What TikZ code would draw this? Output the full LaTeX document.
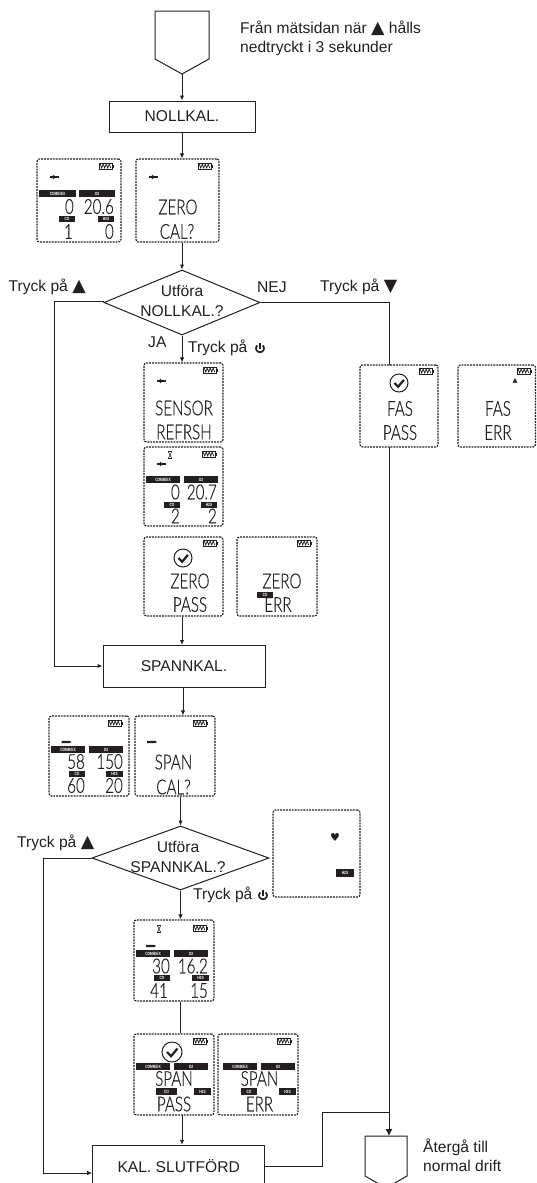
\documentclass[tikz,border=0pt]{standalone}
\usepackage{fontspec}
\setmainfont{Liberation Sans}
\newfontfamily\symf{DejaVu Sans}
\newfontfamily\lcdf[FakeStretch=.74,FakeBold=.4]{Lato Light}
\newfontfamily\barf[FakeStretch=.72]{Liberation Sans}
\usetikzlibrary{shapes.geometric,arrows.meta}
\definecolor{ink}{HTML}{231F20}
\newcount\nn
\tikzset{
  x=1pt,y=-1pt,
  conn/.style={draw=ink,line width=1pt},
  arr/.style={conn,-{Latex[length=5pt,width=4.5pt]}},
  bigarr/.style={conn,-{Latex[length=7pt,width=7pt]}},
  flow/.style={draw=ink,line width=1pt,fill=white,inner sep=0pt,font=\fontsize{15.6}{18}\selectfont,text=ink},
  diam/.style={draw=ink,line width=1pt,diamond,inner sep=0pt,aspect=2.4},
  lbl/.style={inner sep=0pt,text=ink,font=\fontsize{15.6}{19}\selectfont,anchor=base west},
  lcdbox/.style={draw=ink,line width=1.1pt,dash pattern=on 1.9pt off 1pt,rounded corners=2.5pt,inner sep=0pt},
  lcdtxt/.style={inner sep=0pt,text=ink,font=\lcdf\fontsize{20.5}{20}\selectfont},
  lcdnum/.style={lcdtxt,anchor=east},
  barlbl/.style={inner sep=0pt,text=white,font=\barf\bfseries\fontsize{4.6}{5}\selectfont},
}
\newcommand\uid{\global\advance\nn by 1 }
\newcommand\lcdpanel[5]{\node[lcdbox,minimum width={(#4-#2)*1pt},minimum height={(#5-#3)*1pt}] (#1) at ({(#2+#4)/2},{(#3+#5)/2}) {};}
\newcommand\batt[2]{%
  \draw[ink,line width=.8pt] (#1,#2) rectangle ++(13.5,6);
  \fill[ink] (#1+13.5,#2+1.5) rectangle ++(1.4,3);
  \draw[ink,line width=.7pt] (#1+1.2,#2+1) -- ++(1.5,4) -- ++(1.5,-4) -- ++(1.5,4) -- ++(1.5,-4) -- ++(1.5,4) -- ++(1.5,-4) -- ++(1.5,4);}
\newcommand\pumpicon[2]{%
  \fill[ink] (#1-4.5,#2-.7) rectangle (#1+4.5,#2+.7);
  \fill[ink] (#1-1.2,#2-2.4) -- (#1+2.2,#2) -- (#1-1.2,#2+2.4) -- cycle;}
\newcommand\dashicon[2]{%
  \fill[ink] (#1-5,#2-1.2) -- (#1+3,#2-1.2) -- (#1+5,#2) -- (#1+3,#2+1.2) -- (#1-5,#2+1.2) -- cycle;}
\newcommand\glass[2]{%
  \draw[ink,line width=.6pt] (#1-1.7,#2-3.5) -- (#1+1.7,#2-3.5) -- (#1-1.7,#2+3.5) -- (#1+1.7,#2+3.5) -- cycle;}
\newcommand\okmark[3]{%
  \draw[ink,line width=1pt] (#1,#2) circle (#3);
  \draw[ink,line width=2.2pt] (#1-.5*#3,#2) -- (#1-.1*#3,#2+.42*#3) -- (#1+.55*#3,#2-.35*#3);}
\newcommand\tagbar[6]{% x1,y1,x2,y2,text
  \uid\fill[ink] (#1,#2) rectangle (#3,#4);
  \node[barlbl] (bar\the\nn) at ({(#1+#3)/2},{(#2+#4)/2}) {#5};}
\newcommand\lcdword[3]{\uid\node[lcdtxt] (w\the\nn) at (#1,#2) {#3};}
\newcommand\lcdval[3]{\uid\node[lcdnum] (v\the\nn) at (#1,#2) {#3};}
\newcommand\powericon[2]{%
  \draw[ink,line width=1.7pt] (#1-2.8,#2-2.6) .. controls (#1-5.6,#2+.8) and (#1-3.2,#2+4.2) .. (#1,#2+4.2) .. controls (#1+3.2,#2+4.2) and (#1+5.6,#2+.8) .. (#1+2.8,#2-2.6);
  \draw[ink,line width=1.7pt] (#1,#2-5.5) -- (#1,#2+.5);}
\begin{document}
\begin{tikzpicture}
\useasboundingbox (0,0) rectangle (536,1183);
\clip (0,0) rectangle (536,1183);
% start
\coordinate (p1) at (182,74);
\coordinate (p1c) at (182,40);
\draw[ink,line width=1pt] (155,11) -- (209,11) -- (209,59) -- (p1) -- (155,59) -- cycle;
\node[lbl] (from) at (240,33) {Från mätsidan när {\symf\fontsize{17.5}{14}\selectfont ▲} hålls};
\node[lbl] (from2) at (240,52) {nedtryckt i 3 sekunder};
\node[flow,minimum width=146pt,minimum height=31pt] (nk) at (182,116.5) {NOLLKAL.};
\draw[arr] (p1) -- (nk.north);
% lcd 1
\lcdpanel{a1}{37}{159}{121}{242}
\begin{scope}[shift={(37,159)}]
\batt{62}{4}\pumpicon{17}{18}
\tagbar{2}{31}{39}{38}{COMB/EX}{}\tagbar{42}{31}{78}{38}{O2}{}
\tagbar{22}{57}{38}{63}{CO}{}\tagbar{61}{57}{77}{63}{H2S}{}
\lcdval{37}{47.5}{0}\lcdval{77}{47.5}{20.6}\lcdval{36}{72.5}{1}\lcdval{77}{72.5}{0}
\end{scope}
\lcdpanel{a2}{136}{159}{219}{242}
\begin{scope}[shift={(136,159)}]
\batt{62}{4}\pumpicon{17}{18}
\lcdword{42}{48}{ZERO}\lcdword{41}{72.5}{CAL?}
\end{scope}
\draw[arr] (nk.south) -- (nk.south |- a2.north);
% decision 1
\node[diam,minimum width=156pt,minimum height=65pt] (d1) at (182,302.5) {};
\node[inner sep=0pt,align=center,text=ink,font=\fontsize{15.6}{20.5}\selectfont] (d1t) at (182,301) {Utföra\\NOLLKAL.?};
\draw[arr] (d1.north |- a2.south) -- (d1.north);
\node[lbl] (t1) at (8.5,291) {Tryck på {\symf\fontsize{17.5}{15}\selectfont ▲}};
\node[lbl] (ja) at (148,347) {JA};
\node[lbl] (t2) at (188,352) {Tryck på};
\powericon{260}{348}
\node[lbl] (nej) at (257,292) {NEJ};
\node[lbl] (t3) at (320,291) {Tryck på {\symf\fontsize{17.5}{15}\selectfont ▼}};
% sensor refresh
\lcdpanel{b1}{144}{363}{223}{442}
\begin{scope}[shift={(144,363)}]
\batt{59}{4}\pumpicon{17}{18}
\lcdword{40}{45}{SENSOR}\lcdword{40}{69}{REFRSH}
\end{scope}
\draw[arr] (d1.south) -- (d1.south |- b1.north);
\lcdpanel{b2}{144}{447}{223}{526}
\begin{scope}[shift={(144,447)}]
\batt{58}{4}\pumpicon{17}{17}\glass{26}{8}
\tagbar{2}{29}{36}{36}{COMB/EX}{}\tagbar{40}{29}{74}{36}{O2}{}
\tagbar{20}{55}{36}{61}{CO}{}\tagbar{57}{55}{73}{61}{H2S}{}
\lcdval{36}{45}{0}\lcdval{73}{45}{20.7}\lcdval{36}{69}{2}\lcdval{73}{69}{2}
\end{scope}
\lcdpanel{b3}{144}{537}{223}{616}
\begin{scope}[shift={(144,537)}]
\batt{59}{3}\okmark{39}{21}{9}
\lcdword{46}{44}{ZERO}\lcdword{46}{67.5}{PASS}
\end{scope}
\lcdpanel{b4}{237}{537}{317}{616}
\begin{scope}[shift={(237,537)}]
\batt{60}{3}
\lcdword{45}{44}{ZERO}\lcdword{41}{67.5}{ERR}
\tagbar{20}{55}{36}{61}{CO}{}
\end{scope}
% FAS
\lcdpanel{c1}{360}{365}{438}{447}
\begin{scope}[shift={(360,365)}]
\batt{59}{3}\okmark{39}{18}{9}
\lcdword{40}{43.5}{FAS}\lcdword{40}{67.5}{PASS}
\end{scope}
\lcdpanel{c2}{458}{365}{535.5}{447}
\begin{scope}[shift={(458,365)}]
\batt{59}{3}
\node[inner sep=0pt,text=ink,font=\symf\fontsize{6.5}{6}\selectfont] (warn) at (57,16) {▲};
\lcdword{40}{43.5}{FAS}\lcdword{40}{67.5}{ERR}
\end{scope}
\coordinate (nej1) at (389,302.5);
\coordinate (nej2) at (389,365);
\draw[conn] (d1.east) -- (nej1) -- (nej2);
% span box
\node[flow,minimum width=162pt,minimum height=42pt] (sp) at (184,666) {SPANNKAL.};
\coordinate (l1) at (54,301);
\draw[arr] (d1.west |- l1) -- (l1) -- (l1 |- sp.west) -- (sp.west);
\coordinate (sptop) at (182,645);
\draw[arr] (sptop |- b3.south) -- (sptop);
% span lcds
\lcdpanel{e1}{49}{716}{129}{796}
\begin{scope}[shift={(49,716)}]
\batt{59}{4}\dashicon{17.5}{26}
\tagbar{2}{30}{36}{37}{COMB/EX}{}\tagbar{40}{30}{74}{37}{O2}{}
\tagbar{20}{55}{36}{61}{CO}{}\tagbar{57}{55}{74}{61}{H2S}{}
\lcdval{36}{45.5}{58}\lcdval{74}{45.5}{150}\lcdval{36}{69.5}{60}\lcdval{74}{69.5}{20}
\end{scope}
\lcdpanel{e2}{135}{716}{215}{796}
\begin{scope}[shift={(135,716)}]
\batt{58}{4}\dashicon{17}{26}
\lcdword{38.5}{46}{SPAN}\lcdword{38.5}{71}{CAL?}
\end{scope}
\coordinate (spb) at (183,687);
\draw[arr] (spb) -- (spb |- e2.north);
% decision 2
\node[diam,minimum width=177pt,minimum height=64pt] (d2) at (180.5,858) {};
\node[inner sep=0pt,align=center,text=ink,font=\fontsize{15.6}{20.5}\selectfont] (d2t) at (178,857) {Utföra\\SPANNKAL.?};
\draw[arr] (d2.north |- e2.south) -- (d2.north);
\node[lbl] (t4) at (17,847) {Tryck på {\symf\fontsize{17.5}{15}\selectfont ▲}};
\node[lbl] (t5) at (193,899) {Tryck på};
\powericon{263}{895}
\lcdpanel{f1}{273}{810}{360}{897}
\begin{scope}[shift={(273,810)}]
\node[inner sep=0pt,text=ink,font=\symf\fontsize{11}{10}\selectfont] (heart) at (62,27) {♥};
\tagbar{63}{59}{81}{67}{H2S}{}
\end{scope}
% reading
\lcdpanel{g1}{134}{920}{214}{1001}
\begin{scope}[shift={(134,920)}]
\batt{59}{5}\dashicon{17}{26}\glass{25}{9}
\tagbar{2}{30}{36}{37}{COMB/EX}{}\tagbar{40}{30}{74}{37}{O2}{}
\tagbar{20}{55}{36}{61}{CO}{}\tagbar{58}{55}{75}{61}{H2S}{}
\lcdval{36}{46}{30}\lcdval{74}{46}{16.2}\lcdval{34}{70.5}{41}\lcdval{74}{70.5}{15}
\end{scope}
\draw[arr] (d2.south) -- (d2.south |- g1.north);
\lcdpanel{g2}{134}{1034}{214}{1115}
\begin{scope}[shift={(134,1034)}]
\batt{59}{4}\okmark{38}{18}{10}
\tagbar{2}{29}{36}{36}{COMB/EX}{}\tagbar{40}{29}{74}{36}{O2}{}
\tagbar{22}{54}{43}{61}{CO}{}\tagbar{60}{54}{77}{61}{H2S}{}
\lcdword{40}{44.5}{SPAN}\lcdword{40}{70}{PASS}
\end{scope}
\lcdpanel{g3}{218}{1034}{298}{1115}
\begin{scope}[shift={(218,1034)}]
\batt{59}{4}
\tagbar{5}{29}{39}{36}{COMB/EX}{}\tagbar{43}{29}{77}{36}{O2}{}
\tagbar{23}{54}{39}{61}{CO}{}\tagbar{61}{54}{78}{61}{H2S}{}
\lcdword{41.5}{44.5}{SPAN}\lcdword{41.5}{70}{ERR}
\end{scope}
\draw[conn] (d2.south |- g1.south) -- (d2.south |- g2.north);
% end
\node[flow,minimum width=172pt,minimum height=41.5pt] (kal) at (178.7,1166) {KAL. SLUTFÖRD};
\coordinate (g2b) at (182,1115);
\draw[arr] (g2b) -- (g2b |- kal.north);
\coordinate (l2) at (43,858);
\coordinate (l2b) at (43,1173);
\draw[arr] (d2.west) -- (l2) -- (l2b) -- (l2b -| kal.west);
\coordinate (p2) at (386,1188);
\draw[ink,line width=1pt] (365,1136) -- (407,1136) -- (407,1176) -- (p2) -- (365,1176) -- cycle;
\coordinate (fasb) at (389,447);
\coordinate (p2t) at (389,1136);
\draw[bigarr] (fasb) -- (p2t);
\coordinate (k1) at (322.5,1166);
\coordinate (k2) at (322.5,1112.5);
\coordinate (k3) at (389,1112.5);
\draw[conn] (kal.east) -- (k1) -- (k2) -- (k3);
\node[lbl] (ret) at (423,1152) {Återgå till};
\node[lbl] (ret2) at (423,1171) {normal drift};
\end{tikzpicture}
\end{document}
